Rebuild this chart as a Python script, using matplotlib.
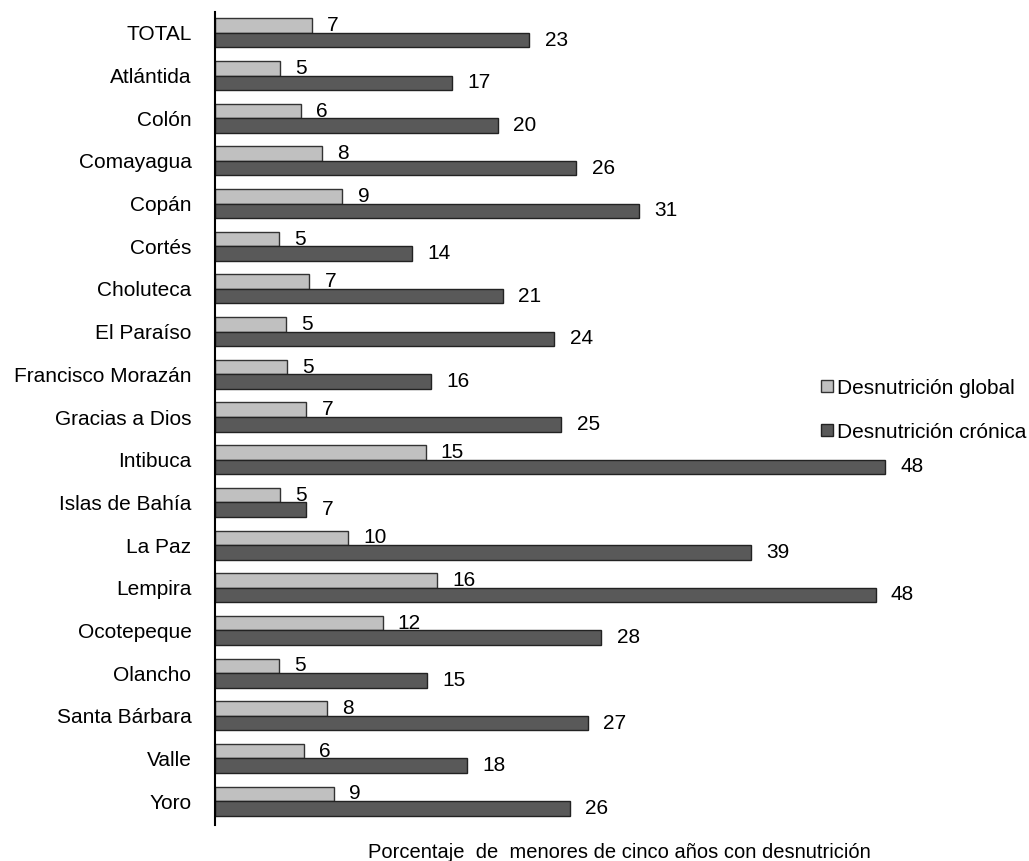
import matplotlib.pyplot as plt
import numpy as np

plt.rcParams['font.family'] = ['Liberation Sans', 'DejaVu Sans']

# departamentos
categorias = ["TOTAL", "Atlántida", "Colón", "Comayagua", "Copán", "Cortés",
              "Choluteca", "El Paraíso", "Francisco Morazán", "Gracias a Dios",
              "Intibuca", "Islas de Bahía", "La Paz", "Lempira", "Ocotepeque",
              "Olancho", "Santa Bárbara", "Valle", "Yoro"]
# valores (porcentaje)
global_ = [7.0, 4.7, 6.2, 7.7, 9.2, 4.6, 6.8, 5.1, 5.2, 6.6,
           15.2, 4.7, 9.6, 16.0, 12.1, 4.6, 8.1, 6.4, 8.6]
cronica = [22.7, 17.1, 20.4, 26.1, 30.6, 14.2, 20.8, 24.5, 15.6, 25.0,
           48.4, 6.6, 38.7, 47.7, 27.9, 15.3, 26.9, 18.2, 25.6]

fs = 15

fig = plt.figure(figsize=(10.29, 8.61), dpi=100)
ax = fig.add_axes([215/1029, 1 - 825/861, (935-215)/1029, (825-12)/861])

y = np.arange(len(categorias))
h = 0.34
b1 = ax.barh(y - h/2, global_, height=h, color='#c0c0c0', edgecolor='#333333',
             linewidth=1, label='Desnutrición global')
b2 = ax.barh(y + h/2, cronica, height=h, color='#595959', edgecolor='#222222',
             linewidth=1, label='Desnutrición crónica')

for rect, v in zip(b1, global_):
    ax.annotate(f"{v:.0f}", (rect.get_width(), rect.get_y() + rect.get_height()/2),
                xytext=(11, 0), textcoords='offset points', va='center', ha='left', fontsize=fs)
for rect, v in zip(b2, cronica):
    ax.annotate(f"{v:.0f}", (rect.get_width(), rect.get_y() + rect.get_height()/2),
                xytext=(11, 0), textcoords='offset points', va='center', ha='left', fontsize=fs)

ax.set_yticks(y)
ax.set_yticklabels(categorias, fontsize=fs)
ax.tick_params(axis='y', length=0, pad=17)
ax.set_xticks([])
ax.set_xlim(0, 720/13.85)
ax.set_ylim(len(categorias) - 1 + 0.56, -0.49)
for s in ['top', 'right', 'bottom']:
    ax.spines[s].set_visible(False)
ax.spines['left'].set_linewidth(1.5)

fig.legend(handles=[b1, b2], loc='center left', bbox_to_anchor=(813/1029, 1 - 410/861),
           frameon=False, fontsize=fs, handlelength=0.55, handleheight=0.55,
           handletextpad=0.2, labelspacing=1.2, borderaxespad=0)

fig.text(619/1029, 9/861, "Porcentaje  de  menores de cinco años con desnutrición",
         ha='center', va='center', fontsize=14.5)

fig.savefig('out.png', dpi=100)
